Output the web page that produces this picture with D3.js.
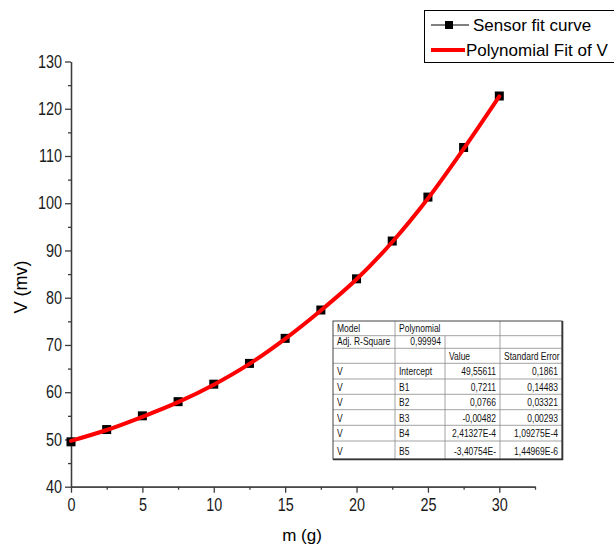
<!DOCTYPE html>
<html>
<head>
<meta charset="utf-8">
<script src="https://cdn.jsdelivr.net/npm/d3@7"></script>
<style>
  body { margin: 0; background: #fff; }
  svg { display: block; font-family: "Liberation Sans", Arial, sans-serif; }
</style>
</head>
<body>
<div id="chart"></div>
<script>

// data
const mValues = [0, 2.5, 5, 7.5, 10, 12.5, 15, 17.5, 20, 22.5, 25, 27.5, 30]
const sensorV = [49.5, 52.1, 55.0, 58.0, 61.7, 66.1, 71.4, 77.4, 84.0, 92.0, 101.3, 111.8, 122.7]
const fitV = [49.7, 52.0, 54.8, 57.9, 61.6, 66.0, 71.3, 77.3, 83.9, 91.8, 101.0, 111.5, 122.6]

const xTicks = [0, 5, 10, 15, 20, 25, 30]
const xMinor = [2.5, 7.5, 12.5, 17.5, 22.5, 27.5, 32.5]
const yTicks = [40, 50, 60, 70, 80, 90, 100, 110, 120, 130]
const yMinor = [45, 55, 65, 75, 85, 95, 105, 115, 125]

const legendLabels = ["Sensor fit curve", "Polynomial Fit of V"]

// fit report table
const tableHead = [["Model", "Polynomial"], ["Adj. R-Square", "0,99994"], ["", "", "Value", "Standard Error"]]
const paramNames = ["Intercept", "B1", "B2", "B3", "B4", "B5"]
const paramValues = ["49,55611", "0,7211", "0,0766", "-0,00482", "2,41327E-4", "-3,40754E-"]
const paramErrors = ["0,1861", "0,14483", "0,03321", "0,00293", "1,09275E-4", "1,44969E-6"]


var width = 614;
var height = 549;

var svg = d3.select("#chart").append("svg")
    .attr("width", width)
    .attr("height", height)

var x = d3.scaleLinear().domain([0, 32.5]).range([71, 535])
var y = d3.scaleLinear().domain([40, 130]).range([486.7, 61.5])

const axisColor = "#3c3c3c"
const squeeze = 0.8   // the labels in the picture are narrow


// minor ticks first, then major axes on top
svg.append("g")
    .attr("transform", "translate(0,486.7)")
    .call(d3.axisBottom(x).tickValues(xMinor).tickSize(3).tickSizeOuter(0).tickFormat(""))
svg.append("g")
    .attr("transform", "translate(71,0)")
    .call(d3.axisLeft(y).tickValues(yMinor).tickSize(3).tickSizeOuter(0).tickFormat(""))

const xAxisG = svg.append("g")
    .attr("transform", "translate(0,486.7)")
    .call(d3.axisBottom(x).tickValues(xTicks).tickSize(6).tickSizeOuter(0))

const yAxisG = svg.append("g")
    .attr("transform", "translate(71,0)")
    .call(d3.axisLeft(y).tickValues(yTicks).tickSize(6).tickSizeOuter(0))

svg.selectAll(".domain, .tick line")
    .attr("stroke", axisColor)
    .attr("stroke-width", 1.3)

xAxisG.selectAll("text")
    .attr("y", null)
    .attr("transform", `translate(0,11.5) scale(${squeeze},1)`)
    .attr("font-size", 18)
    .attr("font-family", "Liberation Sans, Arial, sans-serif")
    .attr("fill", "#1a1a1a")

yAxisG.selectAll("text")
    .attr("x", null)
    .attr("transform", `translate(-9,0) scale(${squeeze},1)`)
    .attr("font-size", 18)
    .attr("font-family", "Liberation Sans, Arial, sans-serif")
    .attr("fill", "#1a1a1a")


// axis titles
svg.append("text")
    .attr("x", 302)
    .attr("y", 541)
    .attr("text-anchor", "middle")
    .attr("font-size", 17)
    .text("m (g)")

svg.append("text")
    .attr("transform", "translate(27,287) rotate(-90)")
    .attr("text-anchor", "middle")
    .attr("font-size", 18)
    .text("V (mv)")


// sensor points with their thin connecting line
const points = mValues.map((m, i) => ({ m: m, v: sensorV[i] }))
const fitPoints = mValues.map((m, i) => ({ m: m, v: fitV[i] }))

svg.append("path")
    .datum(points)
    .attr("fill", "none")
    .attr("stroke", "#000")
    .attr("stroke-width", 1)
    .attr("d", d3.line().x(d => x(d.m)).y(d => y(d.v)))

svg.selectAll(".pt")
    .data(points)
    .enter()
    .append("rect")
    .attr("class", "pt")
    .attr("x", d => x(d.m) - 4.5)
    .attr("y", d => y(d.v) - 4.5)
    .attr("width", 9)
    .attr("height", 9)
    .attr("fill", "#000")

// polynomial fit curve
svg.append("path")
    .datum(fitPoints)
    .attr("fill", "none")
    .attr("stroke", "#ff0000")
    .attr("stroke-width", 4)
    .attr("stroke-linecap", "round")
    .attr("d", d3.line().curve(d3.curveCatmullRom).x(d => x(d.m)).y(d => y(d.v)))


// legend, cut by the right edge like in the picture
const legend = svg.append("g")

legend.append("rect")
    .attr("x", 424.5)
    .attr("y", 10.5)
    .attr("width", 220)
    .attr("height", 52)
    .attr("fill", "#fff")
    .attr("stroke", "#000")
    .attr("stroke-width", 1)

legend.append("line")
    .attr("x1", 431).attr("x2", 469)
    .attr("y1", 25).attr("y2", 25)
    .attr("stroke", "#000")
    .attr("stroke-width", 1)
legend.append("rect")
    .attr("x", 445).attr("y", 21)
    .attr("width", 8).attr("height", 8)
    .attr("fill", "#000")
legend.append("text")
    .attr("x", 473).attr("y", 31)
    .attr("font-size", 17)
    .text(legendLabels[0])

legend.append("line")
    .attr("x1", 431).attr("x2", 465)
    .attr("y1", 50).attr("y2", 50)
    .attr("stroke", "#ff0000")
    .attr("stroke-width", 4)
legend.append("text")
    .attr("x", 466).attr("y", 56)
    .attr("font-size", 17)
    .text(legendLabels[1])


// fit report table
const colEdges = [333, 395, 445, 500, 562]
const rowEdges = [321, 335.7, 348.3, 363.3, 379, 394.3, 409.7, 425.3, 441, 459]

const table = svg.append("g")

table.append("rect")
    .attr("x", colEdges[0])
    .attr("y", rowEdges[0])
    .attr("width", colEdges[4] - colEdges[0])
    .attr("height", rowEdges[9] - rowEdges[0])
    .attr("fill", "#fff")

// horizontal rules
rowEdges.slice(1, -1).forEach(r => {
    table.append("line")
        .attr("x1", colEdges[0]).attr("x2", colEdges[4])
        .attr("y1", r).attr("y2", r)
        .attr("stroke", "#8c8c8c")
        .attr("stroke-width", 0.8)
})

// vertical rules, the second one does not cross the first row
colEdges.slice(1, -1).forEach((c, i) => {
    table.append("line")
        .attr("x1", c).attr("x2", c)
        .attr("y1", i == 1 ? rowEdges[1] : rowEdges[0]).attr("y2", rowEdges[9])
        .attr("stroke", "#8c8c8c")
        .attr("stroke-width", 0.8)
})

table.append("rect")
    .attr("x", colEdges[0])
    .attr("y", rowEdges[0])
    .attr("width", colEdges[4] - colEdges[0])
    .attr("height", rowEdges[9] - rowEdges[0])
    .attr("fill", "none")
    .attr("stroke", "#444")
    .attr("stroke-width", 1)

// darker shadow on right and bottom
table.append("path")
    .attr("d", `M${colEdges[4] + 0.5},${rowEdges[0]}V${rowEdges[9] + 0.5}H${colEdges[0]}`)
    .attr("fill", "none")
    .attr("stroke", "#333")
    .attr("stroke-width", 1.6)

function cell(txt, col, row, align) {
    if (!txt) return
    var base = rowEdges[row + 1] - 3.6
    var px = align == "end" ? colEdges[col + 1] - 4 : colEdges[col] + 4
    table.append("text")
        .attr("transform", `translate(${px},${base}) scale(0.85,1)`)
        .attr("text-anchor", align)
        .attr("font-size", 10)
        .attr("fill", "#111")
        .text(txt)
}

cell(tableHead[0][0], 0, 0, "start")
cell(tableHead[0][1], 1, 0, "start")
cell(tableHead[1][0], 0, 1, "start")
cell(tableHead[1][1], 1, 1, "end")
cell(tableHead[2][2], 2, 2, "start")
cell(tableHead[2][3], 3, 2, "start")

paramNames.forEach((p, i) => {
    cell("V", 0, i + 3, "start")
    cell(p, 1, i + 3, "start")
    cell(paramValues[i], 2, i + 3, "end")
    cell(paramErrors[i], 3, i + 3, "end")
})

</script>
</body>
</html>
